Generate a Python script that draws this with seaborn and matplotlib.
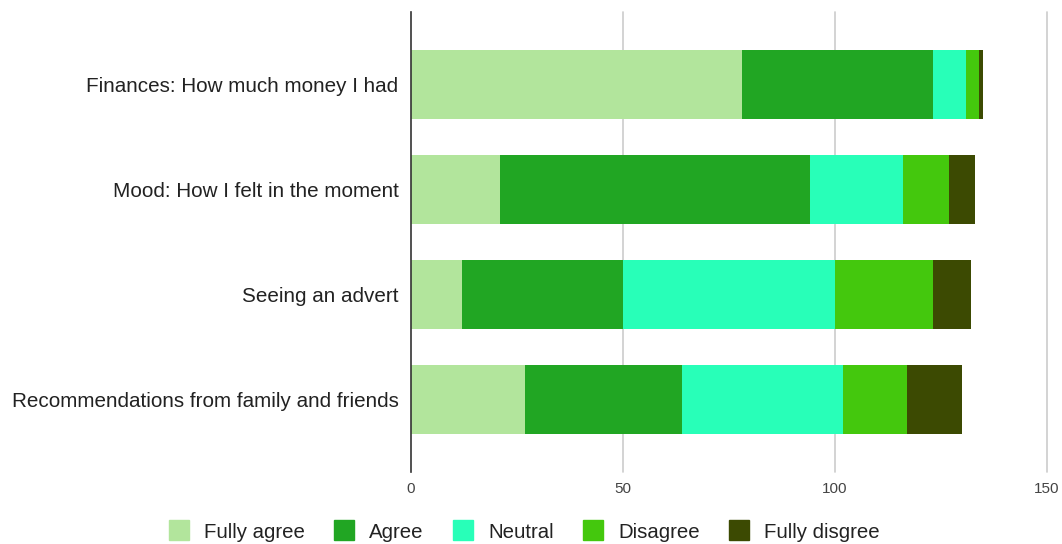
import matplotlib
matplotlib.use("Agg")
import matplotlib.pyplot as plt
from matplotlib.lines import Line2D
import numpy as np
import pandas as pd
import seaborn as sns

categories = [
    "Finances: How much money I had",
    "Mood: How I felt in the moment",
    "Seeing an advert",
    "Recommendations from family and friends",
]
series_names = ["Fully agree", "Agree", "Neutral", "Disagree", "Fully disgree"]
fully_agree = [78, 21, 12, 27]
agree = [45, 73, 38, 37]
neutral = [8, 22, 50, 38]
disagree = [3, 11, 23, 15]
fully_disagree = [1, 6, 9, 13]
x_ticks = [0, 50, 100, 150]

colors = ["#b2e59c", "#21a623", "#28ffb8", "#44c80d", "#3c4a02"]

sns.set_theme(style="white")
plt.rcParams["font.family"] = ["Liberation Sans", "DejaVu Sans"]

values = [fully_agree, agree, neutral, disagree, fully_disagree]
cum = np.cumsum(np.array(values), axis=0)

fig = plt.figure(figsize=(10.62, 5.44), dpi=100)
ax = fig.add_axes([411 / 1062, 1 - 472 / 544, (1047 - 411) / 1062, (472 - 12) / 544])

# stacked bars: draw cumulative totals from the outermost segment inward
for i in range(len(series_names) - 1, -1, -1):
    df = pd.DataFrame({"category": categories, "value": cum[i]})
    sns.barplot(data=df, x="value", y="category", orient="h", color=colors[i],
                saturation=1, width=0.65, ax=ax, zorder=3, linewidth=0)

ax.set_xlim(0, 150)
ax.set_ylim(3.69, -0.69)
ax.set_xticks(x_ticks)
ax.set_xticklabels([str(t) for t in x_ticks], fontsize=11, color="#444444")
ax.tick_params(axis="x", length=0, pad=7)
ax.tick_params(axis="y", length=0, pad=9, labelsize=14.9, labelcolor="#222222")
ax.set_xlabel("")
ax.set_ylabel("")
for t in x_ticks[1:]:
    ax.axvline(t, color="#cccccc", linewidth=1.2, zorder=1, clip_on=False)
for s in ["top", "right", "bottom"]:
    ax.spines[s].set_visible(False)
ax.spines["left"].set_color("#333333")
ax.spines["left"].set_linewidth(1.2)
ax.spines["left"].set_zorder(5)

handles = [Line2D([0], [0], marker="s", linestyle="", markersize=15,
                  markerfacecolor=c, markeredgecolor=c) for c in colors]
fig.legend(handles, series_names, loc="center", bbox_to_anchor=(524 / 1062, 1 - 532 / 544),
           ncol=5, frameon=False, fontsize=14.7, handlelength=1.05, handletextpad=0.7,
           columnspacing=1.4, labelcolor="#222222", borderpad=0)

fig.savefig("out.png", dpi=100)
